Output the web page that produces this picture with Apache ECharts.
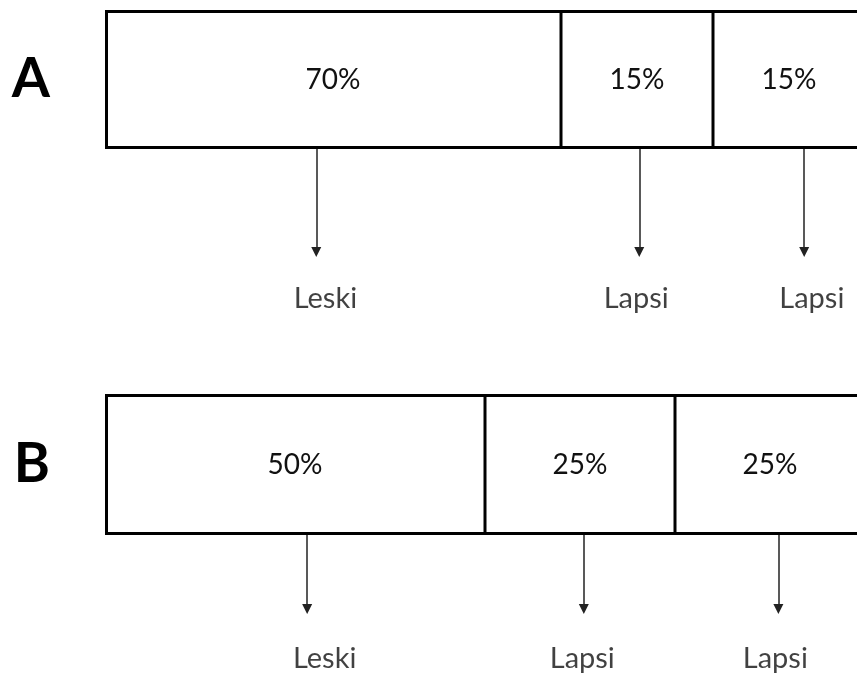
<!DOCTYPE html>
<html>
<head>
<meta charset="utf-8">
<script src="https://cdn.jsdelivr.net/npm/echarts@6/dist/echarts.min.js"></script>
<style>
  html, body { margin: 0; padding: 0; background: #ffffff; }
  #chart { width: 857px; height: 673px; }
</style>
</head>
<body>
<div id="chart"></div>
<script>
// ---- data ----
const rows = ['A', 'B'];
// percentage written in each segment
const sharesA = [70, 15, 15];
const sharesB = [50, 25, 25];
// segment lengths as drawn in the picture (in % of bar length)
const drawnA = [60, 20, 20];
const drawnB = [50, 25, 25];
// labels under the segments
const heirsA = ['Leski', 'Lapsi', 'Lapsi'];
const heirsB = ['Leski', 'Lapsi', 'Lapsi'];
// where arrows and names sit along the bar (in % of bar length)
const arrowAtA = [27.8, 70.3, 92.0];
const arrowAtB = [26.6, 63.0, 88.6];
const nameAtA = [29.0, 69.9, 93.0];
const nameAtB = [28.9, 62.8, 88.2];

// ---- layout ----
const FONT = 'Lato, "Open Sans", sans-serif';
const W = 857, H = 673;
const BAR_LEFT = 105, BAR_LEN = 760;           // full bar runs past the right edge
const VISIBLE_MAX = 100 * (W - BAR_LEFT) / BAR_LEN;
const panels = [
  { top: 10, h: 139, annH: 160, arrowLen: 103, nameY: 149.5 },
  { top: 394, h: 141, annH: H - 394 - 141, arrowLen: 74, nameY: 124 }
];

const grids = [], xAxes = [], yAxes = [], series = [];
const shares = [sharesA, sharesB], drawn = [drawnA, drawnB];
const heirs = [heirsA, heirsB], arrowAt = [arrowAtA, arrowAtB], nameAt = [nameAtA, nameAtB];

panels.forEach((p, i) => {
  // bar grid
  grids.push({ left: BAR_LEFT, top: p.top, right: 0, height: p.h });
  xAxes.push({ gridIndex: grids.length - 1, type: 'value', min: 0, max: VISIBLE_MAX, show: false });
  yAxes.push({
    gridIndex: grids.length - 1, type: 'category', data: [rows[i]],
    axisLine: { show: false }, axisTick: { show: false }, splitLine: { show: false },
    axisLabel: { fontSize: 55, fontWeight: 'bold', fontFamily: FONT, color: '#000', margin: 55 }
  });
  const barAxis = xAxes.length - 1;
  drawn[i].forEach((v, j) => {
    series.push({
      type: 'bar', stack: 'row' + i, xAxisIndex: barAxis, yAxisIndex: barAxis,
      barWidth: '100%', data: [v], clip: false,
      itemStyle: { color: '#ffffff', borderColor: '#000', borderWidth: 1.5 },
      label: {
        show: true, position: 'inside', color: '#111', fontSize: 28, fontFamily: FONT,
        formatter: () => shares[i][j] + '%'
      },
      silent: true, animation: false
    });
  });
  // outer frame of the bar (thicker outline)
  series.push({
    type: 'bar', stack: 'frame' + i, xAxisIndex: barAxis, yAxisIndex: barAxis,
    barWidth: '100%', barGap: '-100%', clip: false,
    data: [drawn[i].reduce((a, b) => a + b, 0)],
    itemStyle: { color: 'rgba(0,0,0,0)', borderColor: '#000', borderWidth: 3 },
    silent: true, animation: false, z: 3
  });
  // annotation grid just below the bar
  grids.push({ left: BAR_LEFT, top: p.top + p.h, right: 0, height: p.annH });
  xAxes.push({ gridIndex: grids.length - 1, type: 'value', min: 0, max: VISIBLE_MAX, show: false });
  yAxes.push({ gridIndex: grids.length - 1, type: 'value', min: 0, max: p.annH, inverse: true, show: false });
  const annAxis = xAxes.length - 1;
  series.push({
    type: 'lines', coordinateSystem: 'cartesian2d', xAxisIndex: annAxis, yAxisIndex: annAxis,
    symbol: ['none', 'triangle'], symbolSize: 10,
    lineStyle: { color: '#222', width: 1.5, opacity: 1, curveness: 0 },
    itemStyle: { color: '#111' },
    data: arrowAt[i].map(x => ({ coords: [[x, 0], [x, p.arrowLen]] })),
    silent: true, animation: false
  });
  series.push({
    type: 'scatter', xAxisIndex: annAxis, yAxisIndex: annAxis,
    symbolSize: 0, clip: false,
    data: nameAt[i].map((x, k) => ({ value: [x, p.nameY], name: heirs[i][k] })),
    label: {
      show: true, position: 'inside', formatter: d => d.name,
      color: '#111', fontSize: 29, fontFamily: FONT
    },
    silent: true, animation: false
  });
});

const chart = echarts.init(document.getElementById('chart'), null, { renderer: 'canvas' });
chart.setOption({
  backgroundColor: '#ffffff',
  animation: false,
  grid: grids,
  xAxis: xAxes,
  yAxis: yAxes,
  series: series
});
</script>
</body>
</html>
